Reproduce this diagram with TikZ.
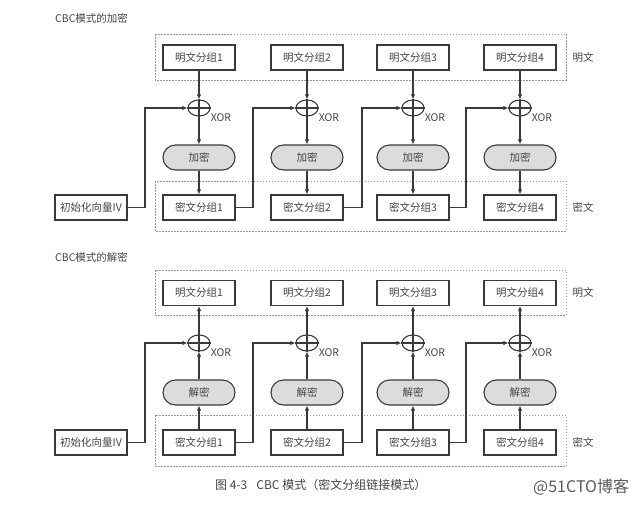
\documentclass[tikz,border=0pt]{standalone}
\usepackage{fontspec}
\setmainfont{Noto Sans CJK SC}
\usetikzlibrary{arrows.meta,shapes.geometric,calc}
\definecolor{ink}{HTML}{3A3A3A}
\definecolor{txt}{HTML}{444444}
\definecolor{dash}{HTML}{9A9A9A}
\definecolor{pill}{HTML}{DCDCDC}
\tikzset{
  blk/.style={draw=ink, line width=1.1pt, minimum width=72pt, minimum height=25pt, inner sep=0pt, font=\fontsize{10.5}{12}\selectfont, text=txt},
  pillbox/.style={draw=ink, line width=1.1pt, fill=pill, rounded corners=12.5pt, minimum width=72pt, minimum height=25pt, inner sep=0pt, font=\fontsize{10.5}{12}\selectfont, text=txt},
  xorc/.style={draw=ink, line width=1.1pt, ellipse, minimum width=22pt, minimum height=16pt, inner sep=0pt},
  grp/.style={draw=dash, line width=0.6pt, dash pattern=on 1.5pt off 1.5pt},
  lbl/.style={font=\fontsize{10.5}{12}\selectfont, text=txt, inner sep=0pt},
  arr/.style={draw=ink, line width=1.1pt, -{Latex[length=5pt,width=4.5pt]}},
  ln/.style={draw=ink, line width=1.1pt}
}
\begin{document}
\begin{tikzpicture}[x=1pt,y=-1pt]
\useasboundingbox (0,0) rectangle (640,506);
% titles
\node[lbl, anchor=west] (t1) at (55,18) {CBC模式的加密};
\node[lbl, anchor=west] (t2) at (55,257) {CBC模式的解密};
% group boxes
\draw[grp] (155,34) rectangle (566,80);
\draw[grp] (155,181) rectangle (566,231);
\draw[grp] (155,270) rectangle (566,315);
\draw[grp] (155,415) rectangle (566,466);
\node[lbl] (lp1) at (583,58) {明文};
\node[lbl] (lc1) at (583,207) {密文};
\node[lbl] (lp2) at (583,293) {明文};
\node[lbl] (lc2) at (583,442) {密文};
% IV boxes
\node[blk] (iv1) at (91,207.5) {初始化向量IV};
\node[blk] (iv2) at (91,442.5) {初始化向量IV};
% columns
\foreach \i/\x in {1/199,2/307,3/413,4/520}{
  % encryption
  \node[blk] (p\i) at (\x,57.5) {明文分组\i};
  \node[xorc] (x\i) at (\x,108) {};
  \draw[ln] (x\i.north) -- (x\i.south) (x\i.west) -- (x\i.east);
  \node[lbl] (xl\i) at ($(x\i)+(22,10)$) {XOR};
  \node[pillbox] (e\i) at (\x,157.5) {加密};
  \node[blk] (c\i) at (\x,207.5) {密文分组\i};
  \draw[arr] (p\i) -- (x\i);
  \draw[arr] (x\i) -- (e\i);
  \draw[arr] (e\i) -- (c\i);
  % decryption
  \node[blk] (dp\i) at (\x,293) {明文分组\i};
  \node[xorc] (dx\i) at (\x,343) {};
  \draw[ln] (dx\i.north) -- (dx\i.south) (dx\i.west) -- (dx\i.east);
  \node[lbl] (dxl\i) at ($(dx\i)+(22,10)$) {XOR};
  \node[pillbox] (dd\i) at (\x,392.5) {解密};
  \node[blk] (dc\i) at (\x,442.5) {密文分组\i};
  \draw[arr] (dc\i) -- (dd\i);
  \draw[arr] (dd\i) -- (dx\i);
  \draw[arr] (dx\i) -- (dp\i);
}
% chaining connectors
\draw[arr] (iv1.east) -- (145,207.5) |- (x1.west);
\draw[arr] (iv2.east) -- (145,442.5) |- (dx1.west);
\foreach \a/\b/\cx in {1/2/253,2/3/362,3/4/466}{
  \draw[arr] (c\a.east) -- (\cx,207.5) |- (x\b.west);
  \draw[arr] (dc\a.east) -- (\cx,442.5) |- (dx\b.west);
}
% caption
\node[font=\fontsize{12}{14}\selectfont, text=txt, anchor=west, inner sep=0pt] (cap) at (215,485) {图 4-3\hspace{9pt}CBC 模式（密文分组链接模式）};
\node[font=\fontsize{16}{18}\selectfont, text=black!65, anchor=west, inner sep=0pt] (wm) at (533,487) {@51CTO博客};
\end{tikzpicture}
\end{document}
